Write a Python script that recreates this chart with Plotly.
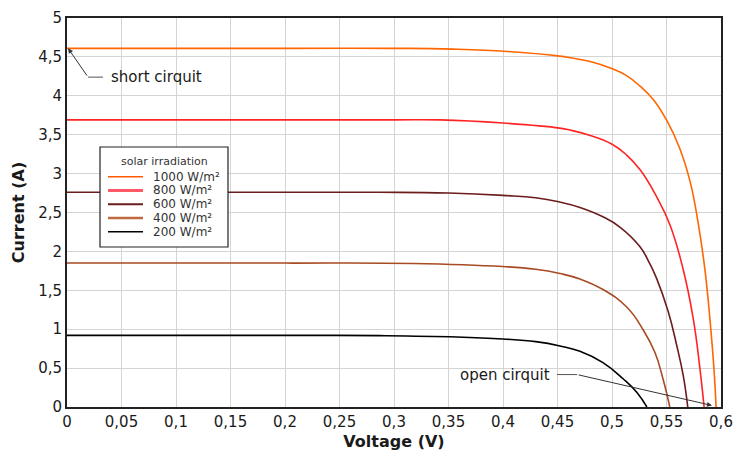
import plotly.graph_objects as go

# ---- data (Voltage in V, Current in A) ----
labels = ["1000 W/m²", "800 W/m²", "600 W/m²", "400 W/m²", "200 W/m²"]

v_1000 = [0, 0.1, 0.2, 0.3, 0.354, 0.404, 0.452, 0.4615, 0.48, 0.4997, 0.513, 0.526,
          0.538, 0.55, 0.562, 0.5716, 0.579, 0.5853, 0.5899, 0.5936, 0.5955]
i_1000 = [4.61, 4.61, 4.61, 4.61, 4.60, 4.57, 4.51, 4.49, 4.44, 4.35, 4.263, 4.12,
          3.95, 3.69, 3.33, 2.90, 2.37, 1.76, 1.12, 0.48, 0.0]

v_800 = [0, 0.1, 0.2, 0.3, 0.342, 0.40, 0.452, 0.4615, 0.48, 0.4997, 0.513, 0.526,
         0.541, 0.5532, 0.5651, 0.5746, 0.5807, 0.5845]
i_800 = [3.69, 3.69, 3.69, 3.69, 3.69, 3.65, 3.585, 3.56, 3.49, 3.38, 3.245, 3.045,
         2.70, 2.34, 1.78, 1.13, 0.49, 0.0]

v_600 = [0, 0.1, 0.2, 0.287, 0.35, 0.40, 0.43, 0.452, 0.4706, 0.4917, 0.5075, 0.5257,
         0.534, 0.541, 0.5517, 0.5594, 0.5654, 0.5695]
i_600 = [2.76, 2.76, 2.76, 2.76, 2.75, 2.72, 2.69, 2.635, 2.565, 2.445, 2.31, 2.06,
         1.86, 1.65, 1.22, 0.79, 0.40, 0.0]

v_400 = [0, 0.1, 0.2, 0.3174, 0.40, 0.43, 0.4523, 0.4706, 0.4917, 0.5135, 0.5287,
         0.5394, 0.547, 0.553]
i_400 = [1.85, 1.85, 1.85, 1.845, 1.805, 1.77, 1.715, 1.645, 1.51, 1.285, 0.99,
         0.70, 0.35, 0.0]

v_200 = [0, 0.1, 0.2, 0.287, 0.3575, 0.40, 0.43, 0.4523, 0.4706, 0.4917, 0.5104,
         0.5227, 0.532]
i_200 = [0.92, 0.92, 0.92, 0.917, 0.90, 0.874, 0.84, 0.785, 0.715, 0.57, 0.36,
         0.19, 0.0]

volts = [v_1000, v_800, v_600, v_400, v_200]
amps = [i_1000, i_800, i_600, i_400, i_200]

x_ticks = [0, 0.05, 0.1, 0.15, 0.2, 0.25, 0.3, 0.35, 0.4, 0.45, 0.5, 0.55, 0.6]
y_ticks = [0, 0.5, 1, 1.5, 2, 2.5, 3, 3.5, 4, 4.5, 5]

# ---- styles ----
line_colors = ["#ff6600", "#ff2424", "#6b1c1c", "#a84a22", "#000000"]
legend_colors = ["#ff5a00", "#ff5a66", "#6b1c1c", "#c0683e", "#000000"]
legend_widths = [1.6, 3, 2, 2.6, 1.6]
font_family = "DejaVu Sans, Verdana, sans-serif"
text_color = "#1a1a1a"

fig = go.Figure()
for v, i, name, col in zip(volts, amps, labels, line_colors):
    fig.add_trace(go.Scatter(
        x=v, y=i, mode="lines", name=name, showlegend=False,
        line=dict(color=col, width=1.6, shape="spline", smoothing=1.3),
        hoverinfo="skip",
    ))

# ---- annotations: short circuit ----
sc_x, sc_y = v_1000[0], i_1000[0]
fig.add_annotation(x=sc_x + 0.001, y=sc_y, ax=0.0193, ay=4.24, xref="x", yref="y",
                   axref="x", ayref="y", text="", showarrow=True,
                   arrowhead=2, arrowsize=1, arrowwidth=1, arrowcolor="#333")
fig.add_shape(type="line", x0=0.0193, y0=4.24, x1=0.033, y1=4.24,
              xref="x", yref="y", line=dict(color="#555", width=1))
fig.add_annotation(x=0.0385, y=4.24, xref="x", yref="y", text="short cirquit",
                   showarrow=False, xanchor="left", yanchor="middle",
                   font=dict(family=font_family, size=15, color=text_color))

# ---- annotations: open circuit ----
fig.add_annotation(x=0.5917, y=0.02, ax=0.468, ay=0.417, xref="x", yref="y",
                   axref="x", ayref="y", text="", showarrow=True,
                   arrowhead=2, arrowsize=1, arrowwidth=1, arrowcolor="#333")
fig.add_shape(type="line", x0=0.4495, y0=0.417, x1=0.468, y1=0.417,
              xref="x", yref="y", line=dict(color="#555", width=1))
fig.add_annotation(x=0.4445, y=0.417, xref="x", yref="y", text="open cirquit",
                   showarrow=False, xanchor="right", yanchor="middle",
                   font=dict(family=font_family, size=15, color=text_color))

# ---- legend box drawn by hand (positions in plot-area fractions) ----
PX0, PW, PY0, PH = 67, 654, 407, 389  # plot-area pixel frame in the window


def px(xp):
    return (xp - PX0) / PW


def py(yp):
    return (PY0 - yp) / PH


fig.add_shape(type="rect", xref="paper", yref="paper",
              x0=px(100), x1=px(228), y0=py(247), y1=py(147),
              line=dict(color="#222", width=1.2), fillcolor="white", layer="above")
fig.add_annotation(xref="paper", yref="paper", x=px(164), y=py(161),
                   text="solar irradiation", showarrow=False,
                   xanchor="center", yanchor="middle",
                   font=dict(family=font_family, size=11, color="#333"))
row0, row_step = 176.7, 13.75
for k, (lab, col, w) in enumerate(zip(labels, legend_colors, legend_widths)):
    ry = row0 + k * row_step
    fig.add_shape(type="line", xref="paper", yref="paper",
                  x0=px(108), x1=px(143), y0=py(ry), y1=py(ry),
                  line=dict(color=col, width=w), layer="above")
    fig.add_annotation(xref="paper", yref="paper", x=px(151), y=py(ry),
                       text=lab, showarrow=False, xanchor="left", yanchor="middle",
                       font=dict(family=font_family, size=12, color="#333"))

fig.update_layout(
    width=750, height=462,
    margin=dict(l=59, r=37, t=10, b=63, autoexpand=False),
    paper_bgcolor="white", plot_bgcolor="white",
    separators=", ",
    font=dict(family=font_family, size=13, color=text_color),
    showlegend=False,
    xaxis=dict(
        range=[0, 0.6], tickvals=x_ticks, showgrid=True, gridcolor="#d4d4d4",
        gridwidth=1, showline=True, linecolor="#222", linewidth=2, mirror=True,
        ticks="", zeroline=False, automargin=False,
        title=dict(text="<b>Voltage (V)</b>", standoff=6,
                   font=dict(family=font_family, size=16, color=text_color)),
        tickfont=dict(family=font_family, size=15, color=text_color),
    ),
    yaxis=dict(
        range=[0, 5], tickvals=y_ticks, showgrid=True, gridcolor="#d4d4d4",
        gridwidth=1, showline=True, linecolor="#222", linewidth=2, mirror=True,
        ticks="", zeroline=False, automargin=False,
        title=dict(text="<b>Current (A)</b>", standoff=10,
                   font=dict(family=font_family, size=16, color=text_color)),
        tickfont=dict(family=font_family, size=15, color=text_color),
    ),
)

fig.write_html("out.html")
